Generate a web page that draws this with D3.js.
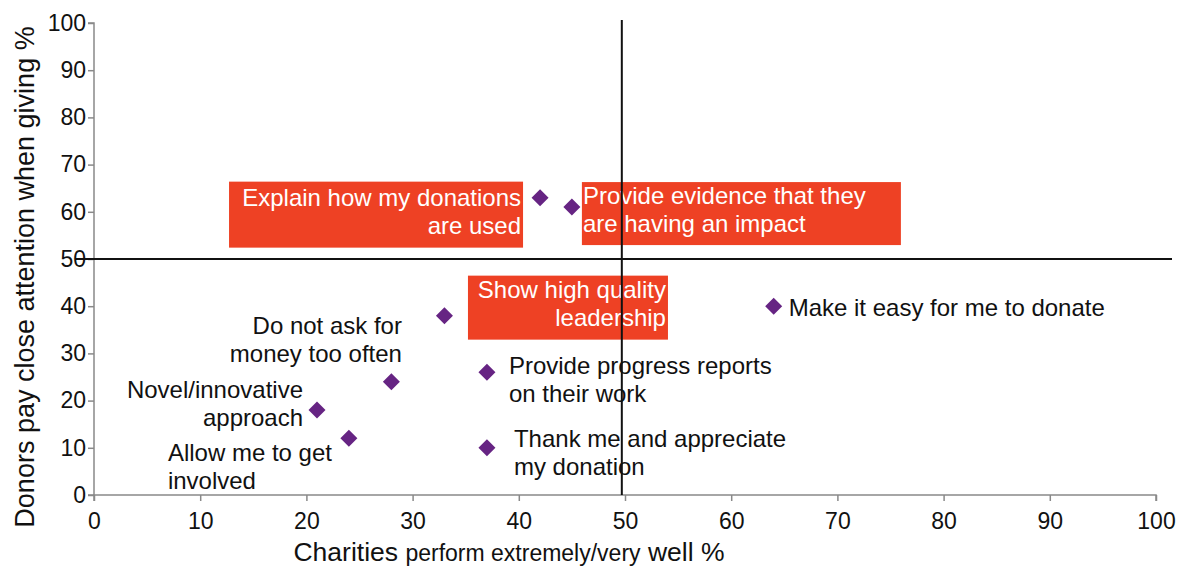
<!DOCTYPE html>
<html>
<head>
<meta charset="utf-8">
<script src="https://cdn.jsdelivr.net/npm/d3@7"></script>
<style>
  body { margin: 0; background: #fff; }
  svg { display: block; font-family: "Liberation Sans", Arial, sans-serif; }
  .axis path, .axis line { stroke: #898989; stroke-width: 1.5; }
  .axis text { fill: #111; font-size: 23px; font-family: "Liberation Sans", Arial, sans-serif; }
</style>
</head>
<body>
<div id="chart"></div>
<script>
  // data
  const labels = [
    ['Explain how my donations', 'are used'],
    ['Provide evidence that they', 'are having an impact'],
    ['Show high quality', 'leadership'],
    ['Make it easy for me to donate'],
    ['Do not ask for', 'money too often'],
    ['Provide progress reports', 'on their work'],
    ['Novel/innovative', 'approach'],
    ['Allow me to get', 'involved'],
    ['Thank me and appreciate', 'my donation'],
  ];
  const performWell = [42, 45, 33, 64, 28, 37, 21, 24, 37];
  const payAttention = [63, 61, 38, 40, 24, 26, 18, 12, 10];
  const xTicks = [0, 10, 20, 30, 40, 50, 60, 70, 80, 90, 100];
  const yTicks = [0, 10, 20, 30, 40, 50, 60, 70, 80, 90, 100];
  const midX = 49.7;
  const midY = 50;

  // label placement, pixels relative to each point
  const layout = [
    { dx: -19, dy: 8, anchor: 'end', box: [-311, -16, -17, 50] },
    { dx: 11, dy: -3, anchor: 'start', box: [10, -25, 329, 38] },
    { dx: 221.5, dy: -18, anchor: 'end', box: [23.5, -40, 223.5, 24] },
    { dx: 15, dy: 10, anchor: 'start' },
    { dx: 10.6, dy: -48, anchor: 'end' },
    { dx: 22, dy: 2, anchor: 'start' },
    { dx: -14, dy: -12, anchor: 'end' },
    { dx: -181, dy: 23, anchor: 'start' },
    { dx: 27, dy: -1, anchor: 'start' },
  ];

  const width = 1181;
  const height = 568;
  const colors = { point: '#662483', box: '#EE4124', line: '#111' };
  const lineHeight = 28;

  const svg = d3.select('#chart').append('svg')
    .attr('width', width)
    .attr('height', height);

  const x = d3.scaleLinear().domain([0, 100]).range([94, 1156]);
  const y = d3.scaleLinear().domain([0, 100]).range([495, 23]);

  // axes
  svg.append('g')
    .attr('class', 'axis')
    .attr('transform', `translate(0,${y(0)})`)
    .call(d3.axisBottom(x).tickValues(xTicks).tickSize(6).tickPadding(12))
    .call(g => g.select('.domain').attr('d', `M${x(0)},6V0H${x(100)}V6`));

  svg.append('g')
    .attr('class', 'axis')
    .attr('transform', `translate(${x(0)},0)`)
    .call(d3.axisLeft(y).tickValues(yTicks).tickSize(6).tickPadding(2))
    .call(g => g.select('.domain').attr('d', `M-6,${y(100)}H0V${y(0)}H-6`));

  const points = labels.map((lines, i) => ({
    lines,
    px: x(performWell[i]),
    py: y(payAttention[i]),
    ...layout[i],
  }));

  // highlight boxes
  svg.append('g').selectAll('rect')
    .data(points.filter(d => d.box))
    .join('rect')
    .attr('x', d => d.px + d.box[0])
    .attr('y', d => d.py + d.box[1])
    .attr('width', d => d.box[2] - d.box[0])
    .attr('height', d => d.box[3] - d.box[1])
    .attr('fill', colors.box);

  // point labels
  svg.append('g').selectAll('text')
    .data(points)
    .join('text')
    .attr('x', d => d.px + d.dx)
    .attr('y', d => d.py + d.dy)
    .attr('text-anchor', d => d.anchor)
    .attr('font-size', 24)
    .attr('fill', d => (d.box ? '#fff' : '#111'))
    .selectAll('tspan')
    .data(d => d.lines.map((t, k) => ({ t, k, d })))
    .join('tspan')
    .attr('x', o => o.d.px + o.d.dx)
    .attr('dy', o => (o.k === 0 ? 0 : lineHeight))
    .text(o => o.t);

  // quadrant lines
  svg.append('line')
    .attr('x1', 75).attr('x2', 1172)
    .attr('y1', y(midY)).attr('y2', y(midY))
    .attr('stroke', colors.line).attr('stroke-width', 2);

  svg.append('line')
    .attr('x1', x(midX)).attr('x2', x(midX))
    .attr('y1', 20).attr('y2', y(0))
    .attr('stroke', colors.line).attr('stroke-width', 2);

  // diamonds
  const r = 8.5;
  svg.append('g').selectAll('path')
    .data(points)
    .join('path')
    .attr('d', d => `M${d.px},${d.py - r}L${d.px + r},${d.py}L${d.px},${d.py + r}L${d.px - r},${d.py}Z`)
    .attr('fill', colors.point);

  // axis titles
  svg.append('text')
    .attr('transform', `translate(34,${(y(0) + y(100)) / 2 + 18}) rotate(-90)`)
    .attr('text-anchor', 'middle')
    .attr('font-size', 27)
    .attr('fill', '#111')
    .text('Donors pay close attention when giving %');

  const xTitle = svg.append('text')
    .attr('x', 509)
    .attr('y', 561)
    .attr('text-anchor', 'middle')
    .attr('fill', '#111')
    .attr('font-size', 26.5);
  xTitle.append('tspan').text('Charities ');
  xTitle.append('tspan').attr('font-size', 23).text('perform extremely/very');
  xTitle.append('tspan').text(' well %');
</script>
</body>
</html>
